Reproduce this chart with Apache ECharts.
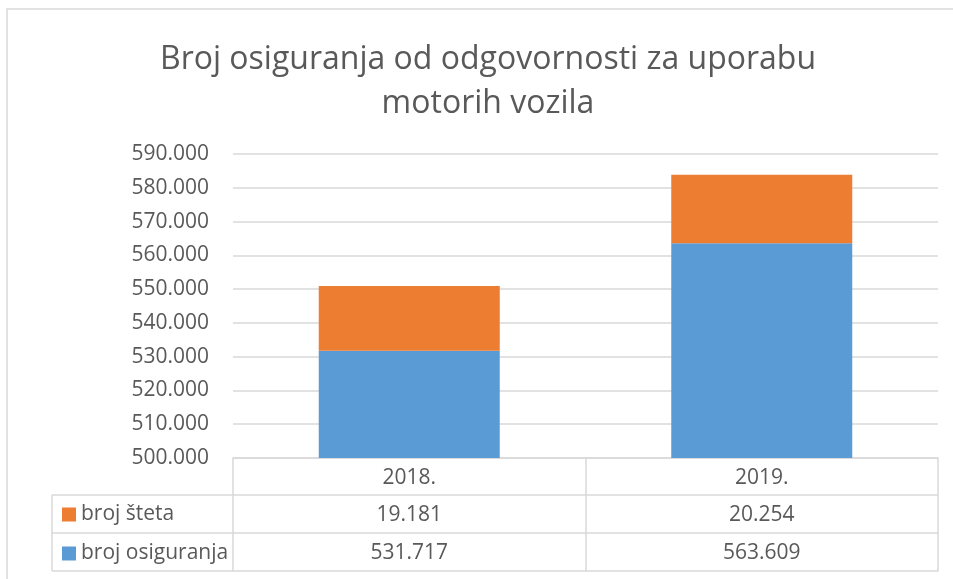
<!DOCTYPE html>
<html>
<head>
<meta charset="utf-8">
<script src="https://cdn.jsdelivr.net/npm/echarts@6/dist/echarts.min.js"></script>
<style>
  html, body { margin: 0; padding: 0; background: #fff; }
  #main { width: 953px; height: 579px; }
</style>
</head>
<body>
<div id="main"></div>
<script>
// podaci
const godine = ['2018.', '2019.'];
const brojOsiguranja = [531717, 563609];
const brojSteta = [19181, 20254];
const yTicks = { min: 500000, max: 590000, interval: 10000 };

const sivo = '#D9D9D9';
const tekst = '#595959';
const font = 'Open Sans';

function fmt(v) {
  return String(v).replace(/\B(?=(\d{3})+(?!\d))/g, '.');
}

let myChart = echarts.init(document.getElementById('main'));

// os za red tablice (offset = pomak ispod osi)
function redOsi(offset, vrijednosti, tickLen) {
  return {
    type: 'category',
    data: godine,
    position: 'bottom',
    offset: offset,
    gridIndex: 0,
    axisLine: { show: true, lineStyle: { color: sivo, width: 1.5 } },
    axisTick: { show: tickLen > 0, length: tickLen, lineStyle: { color: sivo, width: 1.5 } },
    axisLabel: {
      show: !!vrijednosti,
      margin: 10,
      fontSize: 21,
      lineHeight: 20,
      fontFamily: font,
      color: tekst,
      formatter: function (val, idx) {
        return vrijednosti ? vrijednosti[idx] : '';
      }
    },
    splitLine: { show: false }
  };
}

let option = {
  animation: false,
  backgroundColor: '#fff',
  title: {
    text: 'Broj osiguranja od odgovornosti za uporabu\nmotorih vozila',
    left: 488,
    textAlign: 'center',
    top: 38,
    padding: 0,
    textStyle: {
      fontFamily: font,
      fontSize: 32,
      lineHeight: 44,
      fontWeight: 'normal',
      color: tekst
    }
  },
  legend: {
    orient: 'vertical',
    left: 62,
    top: 504,
    padding: 0,
    itemWidth: 14,
    itemHeight: 14,
    itemGap: 18,
    selectedMode: false,
    icon: 'rect',
    data: ['broj šteta', 'broj osiguranja'],
    textStyle: { fontFamily: font, fontSize: 21, lineHeight: 20, color: tekst }
  },
  grid: { left: 233, right: 15, top: 154, bottom: 121, containLabel: false },
  xAxis: [
    redOsi(0, godine, 37),
    redOsi(37, brojSteta.map(fmt), 38),
    redOsi(75, brojOsiguranja.map(fmt), 38),
    redOsi(113, null, 0)
  ],
  yAxis: {
    type: 'value',
    min: yTicks.min,
    max: yTicks.max,
    interval: yTicks.interval,
    axisLine: { show: false },
    axisTick: { show: false },
    axisLabel: { margin: 24, fontSize: 21, fontFamily: font, color: tekst, formatter: fmt },
    splitLine: { lineStyle: { color: sivo, width: 1.5 } }
  },
  series: [
    {
      name: 'broj osiguranja',
      type: 'bar',
      stack: 'ukupno',
      xAxisIndex: 0,
      barWidth: 181,
      itemStyle: { color: '#5B9BD5' },
      data: brojOsiguranja
    },
    {
      name: 'broj šteta',
      type: 'bar',
      stack: 'ukupno',
      xAxisIndex: 0,
      barWidth: 181,
      itemStyle: { color: '#ED7D31' },
      data: brojSteta
    }
  ],
  graphic: [
    // okvir grafikona
    { type: 'rect', shape: { x: 7, y: 9, width: 1000, height: 700 }, style: { fill: 'none', stroke: sivo, lineWidth: 1.5 }, silent: true },
    // lijevi stupac tablice
    { type: 'line', shape: { x1: 52, y1: 495, x2: 233, y2: 495 }, style: { stroke: sivo, lineWidth: 1.5 } },
    { type: 'line', shape: { x1: 52, y1: 533, x2: 233, y2: 533 }, style: { stroke: sivo, lineWidth: 1.5 } },
    { type: 'line', shape: { x1: 52, y1: 571, x2: 233, y2: 571 }, style: { stroke: sivo, lineWidth: 1.5 } },
    { type: 'line', shape: { x1: 52, y1: 495, x2: 52, y2: 571 }, style: { stroke: sivo, lineWidth: 1.5 } }
  ]
};

myChart.setOption(option);
</script>
</body>
</html>
